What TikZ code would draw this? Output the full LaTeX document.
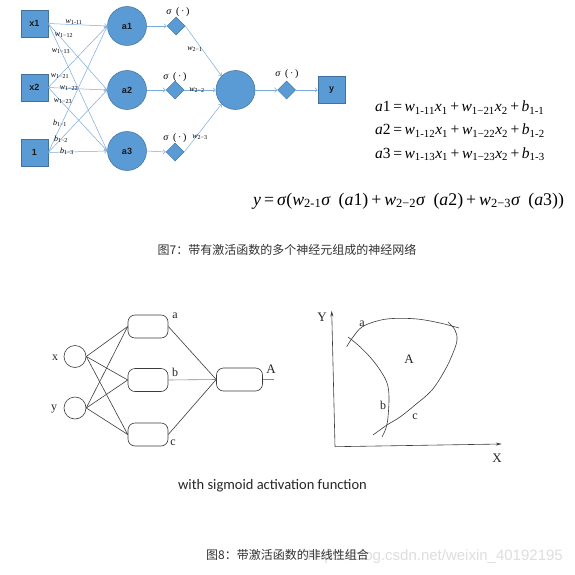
\documentclass[tikz,border=0pt]{standalone}
\usepackage{fontspec}
\setmainfont{Liberation Serif}
\newfontfamily\cjk{Noto Sans CJK SC}
\newfontfamily\sfa{Liberation Sans}
\newfontfamily\calfont{Carlito}
\usetikzlibrary{shapes.geometric,arrows.meta}
\definecolor{nodeblue}{RGB}{91,155,213}
\definecolor{nodeborder}{RGB}{65,113,156}
\definecolor{edgeblue}{RGB}{125,170,220}
\definecolor{captxt}{RGB}{50,50,50}
\definecolor{wmark}{RGB}{222,222,222}
\definecolor{penline}{RGB}{60,60,60}
\newcommand\wsub[2]{\textit{#1}\textsubscript{#2}}
\newcommand\fwp[1]{\hspace{0.45em}(#1)}
\begin{document}
\begin{tikzpicture}[x=1pt,y=-1pt,
  nb/.style={draw=nodeborder,fill=nodeblue,line width=0.5pt,inner sep=0pt,text=black!90,font=\sfa\bfseries\fontsize{9}{10}\selectfont},
  sq/.style={nb,rectangle,minimum size=27pt},
  ci/.style={nb,circle,minimum size=39pt},
  di/.style={nb,diamond,minimum size=18pt},
  arr/.style={draw=edgeblue,line width=0.5pt,-{Straight Barb[length=2.5pt,width=4.5pt]}},
  lab/.style={font=\fontsize{8}{9}\selectfont,inner sep=0pt},
  sig/.style={font=\fontsize{10}{11}\selectfont,inner sep=0pt},
  eqn/.style={font=\fontsize{15.5}{16}\selectfont,inner sep=0pt,anchor=base west},
  io/.style={draw=penline,line width=0.6pt,circle,minimum size=22pt,inner sep=0pt},
  rr/.style={draw=penline,line width=0.6pt,rectangle,rounded corners=7pt,minimum width=40pt,minimum height=23pt,inner sep=0pt},
  ln/.style={draw=penline,line width=0.6pt},
  sl/.style={font=\fontsize{12}{13}\selectfont,inner sep=0pt,text=black!85},
  capt/.style={font=\cjk\fontsize{12}{13}\selectfont,text=captxt,inner sep=0pt}
]
\useasboundingbox (0,0) rectangle (574,575);
\fill[white] (0,0) rectangle (574,575);

% ---------- top network ----------
\node[sq] (x1) at (34.5,23.5) {x1};
\node[sq] (x2) at (34.5,87.5) {x2};
\node[sq] (one) at (34.5,152.5) {1};
\node[ci] (a1) at (127,26) {a1};
\node[ci] (a2) at (127,90) {a2};
\node[ci] (a3) at (127,151) {a3};
\node[di] (d1) at (176,26) {};
\node[di] (d2) at (175,90) {};
\node[di] (d3) at (175,152) {};
\node[ci] (o) at (235.5,90) {};
\node[di] (d4) at (286.5,90) {};
\node[sq] (yo) at (331.5,90) {y};

\foreach \s in {x1,x2,one}
  \foreach \t in {a1,a2,a3}
    \draw[arr] (\s.east) -- (\t.west);
\draw[arr] (a1.east) -- (d1.west);
\draw[arr] (a2.east) -- (d2.west);
\draw[arr] (a3.east) -- (d3.west);
\draw[arr] (d1.east) -- (o.135);
\draw[arr] (d2.east) -- (o.west);
\draw[arr] (d3.east) -- (o.225);
\draw[arr] (o.east) -- (d4.west);
\draw[arr] (d4.east) -- (yo.west);

\node[lab] (l11) at (74,22) {\wsub{w}{1-11}};
\node[lab] (l12) at (64,35) {\wsub{w}{1−12}};
\node[lab] (l13) at (61,51) {\wsub{w}{1−13}};
\node[lab] (l21) at (60,76) {\wsub{w}{1−21}};
\node[lab] (l22) at (69,88) {\wsub{w}{1−22}};
\node[lab] (l23) at (63,101) {\wsub{w}{1−23}};
\node[lab] (lb1) at (60,123) {\wsub{b}{1−1}};
\node[lab] (lb2) at (61,139) {\wsub{b}{1−2}};
\node[lab] (lb3) at (67,151) {\wsub{b}{1−3}};
\node[lab] (m1) at (195,49) {\wsub{w}{2−1}};
\node[lab] (m2) at (197,90) {\wsub{w}{2−2}};
\node[lab] (m3) at (200,137) {\wsub{w}{2−3}};

\node[sig] (s1) at (178,12) {\textit{σ}\fwp{\,·\,}};
\node[sig] (s2) at (175,77) {\textit{σ}\fwp{\,·\,}};
\node[sig] (s3) at (175,138) {\textit{σ}\fwp{\,·\,}};
\node[sig] (s4) at (287,74) {\textit{σ}\fwp{\,·\,}};

% ---------- equations ----------
\node[eqn] (eq1) at (375,112) {\textit{a}1\,=\,\wsub{w}{1-11}\textit{x}\textsubscript{1}\,+\,\wsub{w}{1−21}\textit{x}\textsubscript{2}\,+\,\wsub{b}{1-1}};
\node[eqn] (eq2) at (375,135) {\textit{a}2\,=\,\wsub{w}{1-12}\textit{x}\textsubscript{1}\,+\,\wsub{w}{1−22}\textit{x}\textsubscript{2}\,+\,\wsub{b}{1-2}};
\node[eqn] (eq3) at (375,158) {\textit{a}3\,=\,\wsub{w}{1-13}\textit{x}\textsubscript{1}\,+\,\wsub{w}{1−23}\textit{x}\textsubscript{2}\,+\,\wsub{b}{1-3}};
\node[eqn,font=\fontsize{17.8}{18}\selectfont] (eqy) at (253,205) {\textit{y}\,=\,\textit{σ}(\wsub{w}{2-1}\textit{σ}\fwp{\textit{a}1}\,+\,\wsub{w}{2−2}\textit{σ}\fwp{\textit{a}2}\,+\,\wsub{w}{2−3}\textit{σ}\fwp{\textit{a}3})};

\node[capt] (cap7) at (287,250) {图7：带有激活函数的多个神经元组成的神经网络};

% ---------- bottom left network ----------
\node[io] (xin) at (75,356.5) {};
\node[io] (yin) at (75,408) {};
\node[rr] (ra) at (148,326.5) {};
\node[rr] (rb) at (148,380) {};
\node[rr] (rc) at (148,434.5) {};
\node[rr,minimum width=46pt] (ro) at (239.5,379.5) {};
\coordinate (aend) at (274,379.5);
\foreach \s in {xin,yin}
  \foreach \t in {ra,rb,rc}
    \draw[ln] (\s.east) -- (\t.west);
\draw[ln] (ra.east) -- (ro.west);
\draw[ln,draw=penline!60] (rb.east) -- (ro.west);
\draw[ln] (rc.east) -- (ro.west);
\draw[ln,draw=penline!60] (ro.east) -- (aend);
\node[sl] (lx) at (55,358) {x};
\node[sl] (ly) at (54,409) {y};
\node[sl] (la) at (175,316) {a};
\node[sl] (lb) at (175,372) {b};
\node[sl] (lc) at (173,443) {c};
\node[sl,font=\fontsize{13}{14}\selectfont] (lA) at (271,369) {A};

% ---------- bottom right plot ----------
\coordinate (org) at (335,446.7);
\coordinate (ytop) at (331.7,310.7);
\coordinate (xend) at (501.7,444);
\draw[ln,-{Stealth[length=6pt,width=3pt]}] (org) -- (ytop);
\draw[ln,-{Stealth[length=6pt,width=3pt]}] (org) -- (xend);
\draw[ln] plot[smooth,tension=0.6] coordinates {(346.7,346.7) (353,337) (362,327) (377,321) (393,318.5) (417,319) (440,323) (459,328)};
\draw[ln] plot[smooth,tension=0.6] coordinates {(348,337) (358,345) (370,357) (380,370) (387,383) (389,397) (388,417) (386,428) (382,437)};
\draw[ln] plot[smooth,tension=0.6] coordinates {(373,435) (387,425) (400,417) (415,405) (432,390) (445,370) (453,353) (457,340) (455,330) (448,322)};
\node[sl,font=\fontsize{13}{14}\selectfont] (pY) at (322,317) {Y};
\node[sl,font=\fontsize{13}{14}\selectfont] (pX) at (497,458) {X};
\node[sl] (pa) at (362,323.5) {a};
\node[sl,font=\fontsize{13}{14}\selectfont] (pA) at (409,359.5) {A};
\node[sl] (pb) at (383,405) {b};
\node[sl] (pc) at (415,417) {c};

% ---------- captions ----------
\node[font=\calfont\fontsize{14.5}{15}\selectfont,text=black!85,inner sep=0pt] (sub8) at (272.5,486) {with sigmoid activation function};
\node[font=\sfa\fontsize{15}{16}\selectfont,text=wmark,inner sep=0pt,anchor=base east] (wm) at (563,560) {https://blog.csdn.net/weixin\_40192195};
\node[capt] (cap8) at (287.5,555) {图8：带激活函数的非线性组合};
\end{tikzpicture}
\end{document}
